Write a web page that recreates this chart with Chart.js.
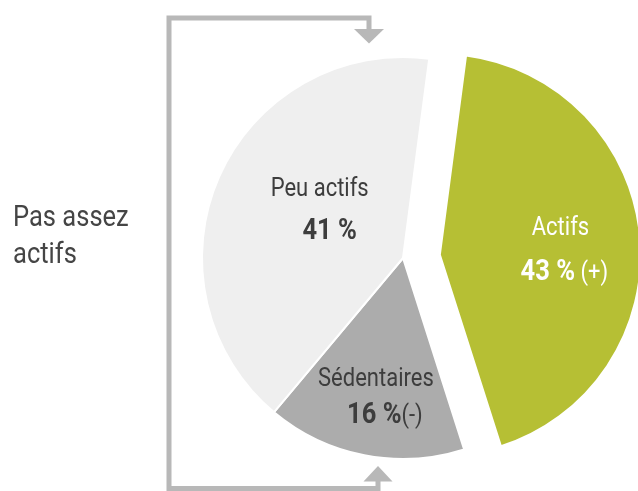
<!DOCTYPE html>
<html lang="fr">
<head>
<meta charset="utf-8">
<title>Niveau d'activité physique</title>
<script src="https://cdn.jsdelivr.net/npm/chart.js@4.4.1/dist/chart.umd.min.js"></script>
<style>
  html, body { margin: 0; padding: 0; background: #fff; }
  #wrap { position: relative; width: 638px; height: 491px; }
</style>
</head>
<body>
<div id="wrap"><canvas id="chart"></canvas></div>
<script>
// Share of the population by activity level. Order = clockwise from the top.
const labels = ["Actifs", "Sédentaires", "Peu actifs"];
const shares = [43, 16, 41];
const signs = ["(+)", "(-)", ""];
const sideLabel = ["Pas assez", "actifs"];

const colors = ["#b6bf34", "#acacac", "#efefef"];
const textColors = ["#ffffff", "#3d3d3d", "#3d3d3d"];
const bracketColor = "#b8b8b8";

const FONT = "Roboto, 'Noto Sans', sans-serif";
const SQUEEZE = 0.88; // Roboto squeezed to look like Roboto Condensed
const EXPLODE = 37;   // px the "Actifs" slice is pulled out

// Label block per slice: fraction of radius along mid-angle, angle tweak (deg),
// baseline gap between the two lines, x-shift of the figure line, separator.
const labelPlace = [
  { r: 0.60, turn: 6.4, gap: 45, shift: 4, sep: " " },
  { r: 0.74, turn: -0.6, gap: 37, shift: 9, sep: "" },
  { r: 0.46, turn: 2, gap: 43, shift: 10, sep: "" },
];

function squeezed(ctx, str, x, y, font, color) {
  ctx.save();
  ctx.font = font;
  ctx.fillStyle = color;
  ctx.translate(x, y);
  ctx.scale(SQUEEZE, 1);
  ctx.fillText(str, 0, 0);
  ctx.restore();
}
function width(ctx, str, font) {
  ctx.save();
  ctx.font = font;
  const w = ctx.measureText(str).width * SQUEEZE;
  ctx.restore();
  return w;
}

// Pull the first slice out without growing its radius (Chart.js offset does).
const explode = {
  id: "explode",
  afterDatasetUpdate(chart, args) {
    const arc = args.meta.data[0];
    const mid = (arc.startAngle + arc.endAngle) / 2;
    arc.x += Math.cos(mid) * EXPLODE;
    arc.y += Math.sin(mid) * EXPLODE;
  },
};

const sliceLabels = {
  id: "sliceLabels",
  afterDatasetsDraw(chart) {
    const ctx = chart.ctx;
    const regular = `400 25px ${FONT}`;
    const bold = `700 29px ${FONT}`;
    ctx.save();
    ctx.textAlign = "left";
    ctx.textBaseline = "alphabetic";
    chart.getDatasetMeta(0).data.forEach((arc, i) => {
      const p = labelPlace[i];
      const a = (arc.startAngle + arc.endAngle) / 2 + (p.turn * Math.PI) / 180;
      const x = arc.x + Math.cos(a) * arc.outerRadius * p.r;
      const y = arc.y + Math.sin(a) * arc.outerRadius * p.r;

      const w1 = width(ctx, labels[i], regular);
      squeezed(ctx, labels[i], x - w1 / 2, y - p.gap / 2, regular, textColors[i]);

      const fig = `${shares[i]} %`;
      const wf = width(ctx, fig, bold);
      const tail = p.sep + signs[i];
      const wt = tail ? width(ctx, tail, regular) : 0;
      const x2 = x + p.shift - (wf + wt) / 2;
      squeezed(ctx, fig, x2, y + p.gap / 2, bold, textColors[i]);
      if (tail) squeezed(ctx, tail, x2 + wf, y + p.gap / 2, regular, textColors[i]);
    });
    ctx.restore();
  },
};

// Bracket grouping the two "not active enough" slices, plus its side label.
const bracket = {
  id: "bracket",
  beforeDatasetsDraw(chart) {
    const ctx = chart.ctx;
    ctx.save();
    ctx.strokeStyle = bracketColor;
    ctx.fillStyle = bracketColor;
    ctx.lineWidth = 5;
    ctx.lineJoin = "miter";
    ctx.beginPath();
    ctx.moveTo(369, 31);
    ctx.lineTo(369, 18);
    ctx.lineTo(169, 18);
    ctx.lineTo(169, 488.5);
    ctx.lineTo(378, 488.5);
    ctx.lineTo(378, 480);
    ctx.stroke();
    ctx.beginPath();
    ctx.moveTo(354, 29); ctx.lineTo(384, 29); ctx.lineTo(369, 43.5);
    ctx.closePath();
    ctx.fill();
    ctx.beginPath();
    ctx.moveTo(363.5, 481.5); ctx.lineTo(392.5, 481.5); ctx.lineTo(378, 466);
    ctx.closePath();
    ctx.fill();

    ctx.textAlign = "left";
    ctx.textBaseline = "alphabetic";
    const f = `400 29px ${FONT}`;
    squeezed(ctx, sideLabel[0], 13, 226, f, "#454545");
    squeezed(ctx, sideLabel[1], 13, 263, f, "#454545");
    ctx.restore();
  },
};

new Chart(document.getElementById("chart"), {
  type: "pie",
  data: {
    labels,
    datasets: [{
      data: shares,
      backgroundColor: colors,
      borderColor: "#ffffff",
      borderWidth: 2,
    }],
  },
  options: {
    responsive: true,
    maintainAspectRatio: false,
    animation: false,
    events: [],
    rotation: 7.5,
    radius: 201,
    layout: { padding: { left: 168, right: 0, top: 25, bottom: 0 } },
    plugins: {
      legend: { display: false },
      tooltip: { enabled: false },
    },
  },
  plugins: [explode, bracket, sliceLabels],
});
</script>
</body>
</html>
